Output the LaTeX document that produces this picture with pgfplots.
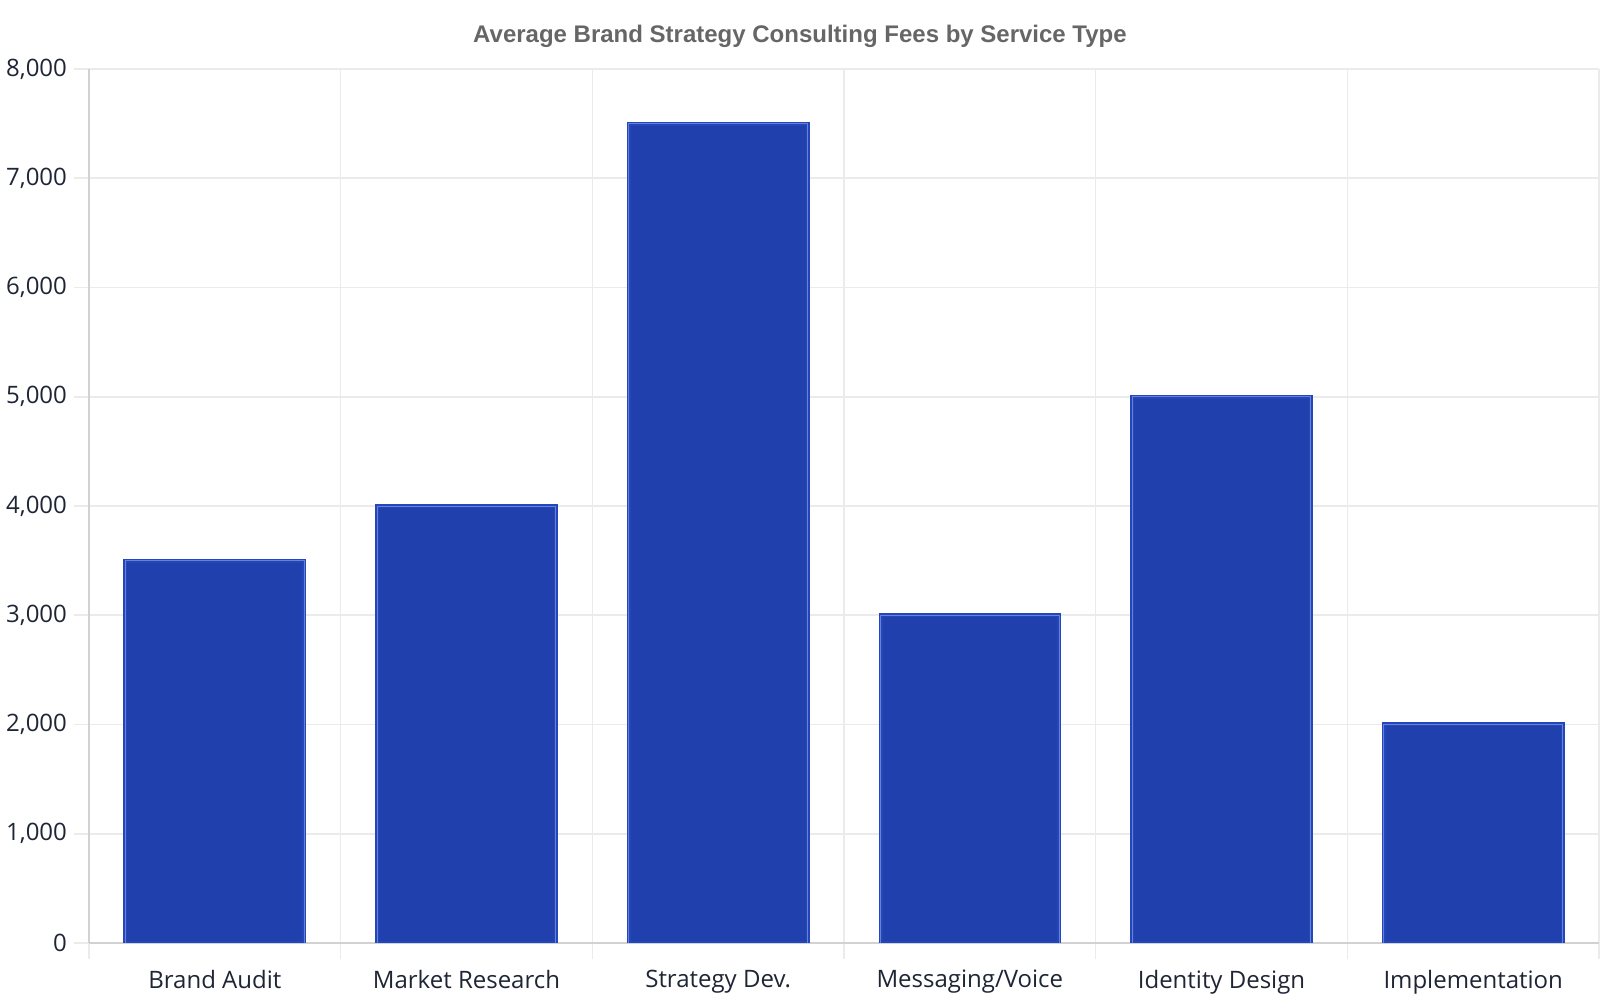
\documentclass[border=0pt]{standalone}
\usepackage{fontspec}
\setmainfont{Open Sans}
\newfontfamily\titlefont{Liberation Sans}
\usepackage{pgfplots}
\usepackage{pgfplotstable}
\pgfplotsset{compat=1.18}

\definecolor{barfill}{HTML}{1F40AD}
\definecolor{baredge}{HTML}{2446BC}
\definecolor{barinner}{HTML}{6A82D4}
\definecolor{gridc}{HTML}{EBEBEB}
\definecolor{axisc}{HTML}{D2D2D2}
\definecolor{labc}{HTML}{1E2535}
\definecolor{titlec}{HTML}{666666}

% fees per service type (USD)
\pgfplotstableread{
x value
0 3500
1 4000
2 7500
3 3000
4 5000
5 2000
}\fees

\begin{document}
\begin{tikzpicture}[x=1pt,y=1pt]
\useasboundingbox (0,0) rectangle (800,500);
\node[font=\titlefont\bfseries\fontsize{12}{14}\selectfont, text=titlec]
  at (400,482) {Average Brand Strategy Consulting Fees by Service Type};
\begin{axis}[
  at={(44.5pt,28.5pt)}, anchor=south west,
  scale only axis, width=755pt, height=437pt,
  xmin=-0.5, xmax=5.5, ymin=0, ymax=8000,
  axis x line*=bottom, axis y line*=left,
  axis line style={axisc, line width=1pt, -},
  xtick={0,...,5},
  xticklabels={Brand Audit, Market Research, Strategy Dev., Messaging/Voice, Identity Design, Implementation},
  minor xtick={-0.5,0.5,...,5.5},
  ytick={0,1000,...,8000},
  xminorgrids, ymajorgrids,
  grid style={gridc, line width=0.8pt},
  tick align=outside,
  major tick length=7.5pt, minor tick length=8pt,
  tick style={gridc, line width=0.8pt},
  major x tick style={draw=none},
  ticklabel style={font=\fontsize{12}{14}\selectfont, text=labc},
  xticklabel style={yshift=-2.5pt},
  /pgf/number format/1000 sep={,},
  /pgf/number format/assume math mode=true,
]
\addplot[ybar, bar width=0.71, fill=barfill, draw=baredge,
  line width=0.8pt, double=barinner, double distance=0.4pt]
  table[x=x, y=value] {\fees};
\end{axis}
\end{tikzpicture}
\end{document}
